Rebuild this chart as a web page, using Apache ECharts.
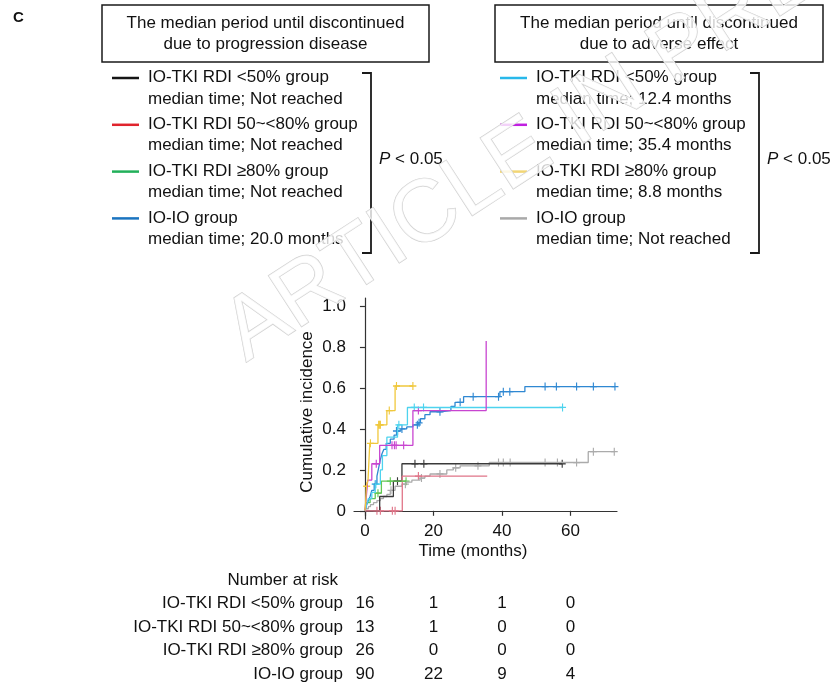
<!DOCTYPE html>
<html>
<head>
<meta charset="utf-8">
<script src="https://cdn.jsdelivr.net/npm/echarts@6/dist/echarts.min.js"></script>
<style>
html,body{margin:0;padding:0;background:#fff;}
#chart{width:832px;height:687px;}
</style>
</head>
<body>
<div id="chart"></div>
<script>
// ---------------- DATA ----------------
const ticksX = [0, 20, 40, 60];
const ticksY = [0, 0.2, 0.4, 0.6, 0.8, 1.0];

// Progression disease (PD) curves: [months, cumulative incidence]
const pdLt50 = [[0,0],[4.3,0.07],[8.3,0.145],[10.8,0.23],[57.6,0.23]];
const pdLt50Cens = [[9.5,0.145],[14.6,0.23],[17.2,0.23],[57.6,0.23]];
const pd50to80 = [[0,0],[10.9,0.17],[35.7,0.17]];
const pd50to80Cens = [[3.5,0],[4.5,0],[8.0,0],[8.8,0],[15.6,0.17]];
const pdGe80 = [[0,0],[0.4,0.04],[1.5,0.06],[3.0,0.086],[4.8,0.145],[12.0,0.145]];
const pdGe80Cens = [[3.8,0.086],[7.4,0.145],[12.0,0.145]];
const pdIO = [[0,0],[0.5,0.03],[1.0,0.05],[1.5,0.07],[2.0,0.10],[2.7,0.13],[3.5,0.17],[4.0,0.21],[4.5,0.25],[5.0,0.28],[5.5,0.30],[6.2,0.33],[7.4,0.35],[8.5,0.37],[9.5,0.39],[10.5,0.40],[12.2,0.41],[14.0,0.42],[15.5,0.43],[16.2,0.45],[17.5,0.47],[19.0,0.484],[21.9,0.49],[25.1,0.51],[26.3,0.53],[28.8,0.558],[39.4,0.582],[46.7,0.607],[73.0,0.607]];
const pdIOCens = [[3.0,0.13],[9.2,0.39],[10.8,0.40],[15.3,0.42],[15.8,0.43],[21.9,0.484],[27.8,0.53],[31.6,0.558],[39.0,0.558],[40.4,0.582],[42.3,0.582],[52.6,0.607],[55.9,0.607],[61.8,0.607],[66.7,0.607],[73.0,0.607]];

// Adverse effect (AE) curves
const aeLt50 = [[0,0],[0.5,0.03],[1.0,0.06],[2.0,0.09],[3.0,0.13],[4.5,0.20],[5.1,0.27],[6.4,0.36],[9.5,0.42],[12.4,0.505],[57.7,0.505]];
const aeLt50Cens = [[3.2,0.13],[9.9,0.42],[14.4,0.505],[17.1,0.505],[57.7,0.505]];
const ae50to80 = [[0,0],[0.4,0.07],[0.8,0.15],[2.0,0.23],[4.3,0.32],[14.0,0.49],[35.4,0.83]];
const ae50to80Cens = [[3.3,0.23],[7.9,0.32],[8.6,0.32],[9.1,0.32],[11.3,0.32],[15.6,0.49]];
const aeGe80 = [[0,0],[0.2,0.04],[0.4,0.12],[0.9,0.15],[1.4,0.33],[3.8,0.42],[6.4,0.49],[8.8,0.61],[14.0,0.61]];
const aeGe80Cens = [[0.5,0.12],[1.6,0.33],[4.0,0.42],[4.3,0.42],[4.5,0.42],[7.1,0.49],[9.2,0.61],[14.0,0.61]];
const aeIO = [[0,0],[0.3,0.01],[1.0,0.02],[1.6,0.03],[2.5,0.04],[3.5,0.05],[4.5,0.06],[5.4,0.07],[6.4,0.08],[7.4,0.10],[8.8,0.12],[10.8,0.13],[12.0,0.14],[13.7,0.15],[16.1,0.16],[17.5,0.17],[19.0,0.18],[23.9,0.20],[25.8,0.21],[27.8,0.22],[36.3,0.236],[65.2,0.289],[72.8,0.289]];
const aeIOCens = [[7.6,0.10],[11.8,0.13],[16.5,0.16],[21.9,0.18],[26.5,0.21],[33.0,0.22],[39.0,0.236],[40.4,0.236],[42.4,0.236],[52.6,0.236],[56.2,0.236],[61.8,0.236],[66.7,0.289],[72.8,0.289]];

// Legend texts
const pdTitle = ['The median period until discontinued', 'due to progression disease'];
const aeTitle = ['The median period until discontinued', 'due to adverse effect'];
const pdNames = ['IO-TKI RDI <50% group', 'IO-TKI RDI 50~<80% group', 'IO-TKI RDI \u226580% group', 'IO-IO group'];
const pdMedians = ['median time; Not reached', 'median time; Not reached', 'median time; Not reached', 'median time; 20.0 months'];
const aeNames = ['IO-TKI RDI <50% group', 'IO-TKI RDI 50~<80% group', 'IO-TKI RDI \u226580% group', 'IO-IO group'];
const aeMedians = ['median time; 12.4 months', 'median time; 35.4 months', 'median time; 8.8 months', 'median time; Not reached'];

// Number at risk
const riskGroups = ['IO-TKI RDI <50% group', 'IO-TKI RDI 50~<80% group', 'IO-TKI RDI \u226580% group', 'IO-IO group'];
const riskTimes = [0, 20, 40, 60];
const riskLt50 = [16, 1, 1, 0];
const risk50to80 = [13, 1, 0, 0];
const riskGe80 = [26, 0, 0, 0];
const riskIO = [90, 22, 9, 4];

// ---------------- STYLE ----------------
const FONT = '"Liberation Sans", Arial, Helvetica, sans-serif';
const FS = 17;
const TXT = '#111';
const pdLineColors = ['#3a3a3a', '#e07488', '#62c653', '#2f88d2'];
const aeLineColors = ['#4dd3ee', '#c845d0', '#f0c83c', '#ababab'];
const pdLegendColors = ['#151515', '#e0242d', '#22b05a', '#1b74c0'];
const aeLegendColors = ['#28b8ea', '#c020e0', '#f2d675', '#a9a9a9'];

const curves = [
  [aeIO, aeIOCens, aeLineColors[3]],
  [pdLt50, pdLt50Cens, pdLineColors[0]],
  [pd50to80, pd50to80Cens, pdLineColors[1]],
  [pdGe80, pdGe80Cens, pdLineColors[2]],
  [pdIO, pdIOCens, pdLineColors[3]],
  [aeLt50, aeLt50Cens, aeLineColors[0]],
  [ae50to80, ae50to80Cens, aeLineColors[1]],
  [aeGe80, aeGe80Cens, aeLineColors[2]]
];

const series = [];
curves.forEach(([d, c, col]) => {
  series.push({
    type: 'line', step: 'end', data: d, symbol: 'none', silent: true,
    xAxisIndex: 0, yAxisIndex: 0,
    lineStyle: { width: 1.3, color: col }
  });
  series.push({
    type: 'scatter', data: c, silent: true,
    xAxisIndex: 0, yAxisIndex: 0,
    symbol: 'path://M5,0L5,10M0,5L10,5', symbolSize: [7, 8],
    itemStyle: { color: 'transparent', borderColor: col, borderWidth: 1.2, opacity: 1 }
  });
});

const riskRows = [riskLt50, risk50to80, riskGe80, riskIO];
const riskData = [];
riskRows.forEach((row, r) => row.forEach((n, i) => riskData.push([riskTimes[i], r, n])));
series.push({
  type: 'scatter', xAxisIndex: 1, yAxisIndex: 1, data: riskData, silent: true,
  symbolSize: 1, itemStyle: { color: 'rgba(0,0,0,0)', opacity: 1 },
  label: { show: true, position: 'inside', formatter: p => String(p.value[2]),
           fontFamily: FONT, fontSize: FS, color: TXT, opacity: 1 }
});

// ---------------- GRAPHIC (legends, titles) ----------------
const g = [];
function txt(x, y, t, opt) {
  g.push(Object.assign({ type: 'text', x: x, y: y, silent: true,
    style: Object.assign({ text: t, font: FS + 'px ' + FONT, fill: TXT, textAlign: 'left', textVerticalAlign: 'middle' }, opt || {}) }));
}
g.push({ type: 'text', x: 13, y: 18, silent: true,
  style: { text: 'C', font: 'bold 15px ' + FONT, fill: TXT, textVerticalAlign: 'middle' } });

function legendBlock(bx, bw, title, names, meds, colors, lineX1, lineX2, textX, brX) {
  g.push({ type: 'rect', silent: true, shape: { x: bx, y: 5, width: bw, height: 57 },
    style: { fill: 'none', stroke: '#1a1a1a', lineWidth: 1.5 } });
  txt(bx + bw / 2, 23, title[0], { textAlign: 'center' });
  txt(bx + bw / 2, 44, title[1], { textAlign: 'center' });
  names.forEach((n, i) => {
    const y = 77.5 + i * 46.8;
    g.push({ type: 'line', silent: true, shape: { x1: lineX1, y1: y + 0.5, x2: lineX2, y2: y + 0.5 },
      style: { stroke: colors[i], lineWidth: 2.5 } });
    txt(textX, y, n);
    txt(textX, y + 21.5, meds[i]);
  });
  g.push({ type: 'polyline', silent: true,
    shape: { points: [[brX - 9, 73], [brX, 73], [brX, 253], [brX - 9, 253]] },
    style: { fill: 'none', stroke: '#1a1a1a', lineWidth: 1.8 } });
  g.push({ type: 'text', x: brX + 8, y: 159, silent: true,
    style: { text: '{i|P} < 0.05', font: FS + 'px ' + FONT, fill: TXT, textVerticalAlign: 'middle',
      rich: { i: { fontStyle: 'italic', fontFamily: FONT, fontSize: FS, fill: TXT } } } });
}
legendBlock(102, 327, pdTitle, pdNames, pdMedians, pdLegendColors, 112, 139, 148, 371);
legendBlock(495, 328, aeTitle, aeNames, aeMedians, aeLegendColors, 500, 527, 536, 759);

// axis titles
txt(473, 551, 'Time (months)', { textAlign: 'center' });
g.push({ type: 'text', x: 307, y: 412, rotation: Math.PI / 2, silent: true,
  style: { text: 'Cumulative incidence', font: FS + 'px ' + FONT, fill: TXT, textAlign: 'center', textVerticalAlign: 'middle' } });
txt(338, 580, 'Number at risk', { textAlign: 'right' });

// watermark
g.push({ type: 'text', x: 233, y: 342, rotation: 33 * Math.PI / 180, silent: true, z: 100,
  style: { text: 'ARTICLE IN PRESS', font: '88px ' + FONT, fill: 'rgba(255,255,255,0.8)',
    stroke: '#d0d0d0', lineWidth: 1.3, textAlign: 'left', textVerticalAlign: 'middle' } });

// ---------------- OPTION ----------------
const axisCol = '#333';
const option = {
  animation: false,
  backgroundColor: '#fff',
  grid: [
    { left: 354, right: 215, top: 298, bottom: 168 },
    { left: 354, right: 215, top: 592, bottom: 1 }
  ],
  xAxis: [
    { type: 'value', gridIndex: 0, min: -3.2, max: 73.6,
      axisLine: { show: true, lineStyle: { color: axisCol, width: 1.2 } },
      axisTick: { show: true, length: 5, customValues: ticksX, lineStyle: { color: axisCol, width: 1.2 } },
      axisLabel: { customValues: ticksX, margin: 4, fontFamily: FONT, fontSize: FS, color: TXT },
      splitLine: { show: false } },
    { type: 'value', gridIndex: 1, min: -3.2, max: 73.6, show: false }
  ],
  yAxis: [
    { type: 'value', gridIndex: 0, min: -0.04, max: 1.04,
      axisLine: { show: true, lineStyle: { color: axisCol, width: 1.2 } },
      axisTick: { show: true, length: 5, customValues: ticksY, lineStyle: { color: axisCol, width: 1.2 } },
      axisLabel: { customValues: ticksY, margin: 8, fontFamily: FONT, fontSize: FS, color: TXT,
        formatter: v => (Math.abs(v) < 1e-9 ? '0' : v.toFixed(1)) },
      splitLine: { show: false } },
    { type: 'category', gridIndex: 1, inverse: true, data: riskGroups,
      axisLine: { show: false }, axisTick: { show: false }, splitLine: { show: false },
      axisLabel: { margin: 11, fontFamily: FONT, fontSize: FS, color: TXT } }
  ],
  series: series,
  graphic: g
};
const chart = echarts.init(document.getElementById('chart'), null, { renderer: 'canvas' });
chart.setOption(option);
</script>
</body>
</html>
